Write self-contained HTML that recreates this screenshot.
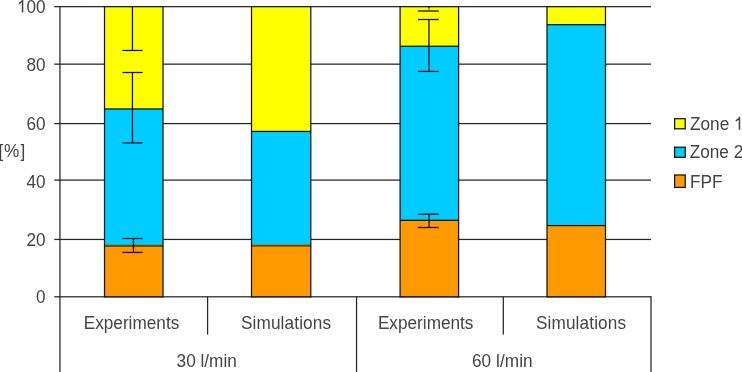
<!DOCTYPE html>
<html><head><meta charset="utf-8"><title>Chart</title>
<style>
html,body{margin:0;padding:0;background:#fff;}
body{width:742px;height:372px;overflow:hidden;}
svg{display:block;}
text{font-family:"Liberation Sans",sans-serif;font-size:17.2px;fill:#444444;}
</style></head><body>
<svg width="742" height="372" viewBox="0 0 742 372">
<rect x="0" y="0" width="742" height="372" fill="#ffffff"/>
<rect x="54.25" y="6.03" width="596.75" height="1.25" fill="#262626"/>
<rect x="54.25" y="63.53" width="596.75" height="1.25" fill="#262626"/>
<rect x="54.25" y="122.97" width="596.75" height="1.25" fill="#262626"/>
<rect x="54.25" y="179.47" width="596.75" height="1.25" fill="#262626"/>
<rect x="54.25" y="238.82" width="596.75" height="1.25" fill="#262626"/>
<rect x="54.25" y="296.18" width="597.35" height="1.25" fill="#262626"/>
<rect x="59.34" y="6.15" width="1.25" height="365.85" fill="#262626"/>
<rect x="650.38" y="296.80" width="1.25" height="75.20" fill="#262626"/>
<rect x="206.97" y="296.80" width="1.25" height="37.80" fill="#262626"/>
<rect x="355.93" y="296.80" width="1.25" height="75.20" fill="#262626"/>
<rect x="502.68" y="296.80" width="1.25" height="37.80" fill="#262626"/>
<rect x="104.50" y="6.65" width="58.50" height="102.30" fill="#ffff00"/>
<rect x="104.50" y="108.95" width="58.50" height="136.00" fill="#00ccff"/>
<rect x="104.50" y="244.95" width="58.50" height="51.85" fill="#ff9900"/>
<rect x="103.88" y="6.03" width="1.25" height="291.40" fill="#141414"/>
<rect x="162.38" y="6.03" width="1.25" height="291.40" fill="#141414"/>
<rect x="104.50" y="6.03" width="58.50" height="1.25" fill="#141414"/>
<rect x="104.50" y="296.18" width="58.50" height="1.25" fill="#141414"/>
<rect x="104.50" y="108.33" width="58.50" height="1.25" fill="#141414"/>
<rect x="104.50" y="244.75" width="58.50" height="2.20" fill="rgba(10,5,0,0.55)"/>
<rect x="251.50" y="6.65" width="59.30" height="124.78" fill="#ffff00"/>
<rect x="251.50" y="131.43" width="59.30" height="113.31" fill="#00ccff"/>
<rect x="251.50" y="244.74" width="59.30" height="52.06" fill="#ff9900"/>
<rect x="250.88" y="6.03" width="1.25" height="291.40" fill="#141414"/>
<rect x="310.18" y="6.03" width="1.25" height="291.40" fill="#141414"/>
<rect x="251.50" y="6.03" width="59.30" height="1.25" fill="#141414"/>
<rect x="251.50" y="296.18" width="59.30" height="1.25" fill="#141414"/>
<rect x="251.50" y="130.81" width="59.30" height="1.25" fill="#141414"/>
<rect x="251.50" y="244.54" width="59.30" height="2.20" fill="rgba(10,5,0,0.55)"/>
<rect x="400.10" y="6.65" width="58.50" height="39.59" fill="#ffff00"/>
<rect x="400.10" y="46.24" width="58.50" height="174.06" fill="#00ccff"/>
<rect x="400.10" y="220.30" width="58.50" height="76.50" fill="#ff9900"/>
<rect x="399.48" y="6.03" width="1.25" height="291.40" fill="#141414"/>
<rect x="457.98" y="6.03" width="1.25" height="291.40" fill="#141414"/>
<rect x="400.10" y="6.03" width="58.50" height="1.25" fill="#141414"/>
<rect x="400.10" y="296.18" width="58.50" height="1.25" fill="#141414"/>
<rect x="400.10" y="45.62" width="58.50" height="1.25" fill="#141414"/>
<rect x="400.10" y="219.68" width="58.50" height="1.25" fill="#141414"/>
<rect x="547.00" y="6.65" width="58.50" height="18.05" fill="#ffff00"/>
<rect x="547.00" y="24.70" width="58.50" height="200.90" fill="#00ccff"/>
<rect x="547.00" y="225.60" width="58.50" height="71.20" fill="#ff9900"/>
<rect x="546.38" y="6.03" width="1.25" height="291.40" fill="#141414"/>
<rect x="604.88" y="6.03" width="1.25" height="291.40" fill="#141414"/>
<rect x="547.00" y="6.03" width="58.50" height="1.25" fill="#141414"/>
<rect x="547.00" y="296.18" width="58.50" height="1.25" fill="#141414"/>
<rect x="547.00" y="24.07" width="58.50" height="1.25" fill="#141414"/>
<rect x="547.00" y="224.97" width="58.50" height="1.25" fill="#141414"/>
<rect x="131.82" y="6.65" width="1.25" height="43.82" fill="#0c0c0c"/>
<rect x="122.40" y="49.84" width="20.20" height="1.25" fill="#0c0c0c"/>
<rect x="131.82" y="72.50" width="1.25" height="70.40" fill="#0c0c0c"/>
<rect x="122.40" y="71.88" width="20.20" height="1.25" fill="#0c0c0c"/>
<rect x="122.40" y="142.28" width="20.20" height="1.25" fill="#0c0c0c"/>
<rect x="132.82" y="238.50" width="1.25" height="13.94" fill="#0c0c0c"/>
<rect x="122.40" y="237.88" width="20.10" height="1.25" fill="#0c0c0c"/>
<rect x="122.40" y="251.81" width="20.10" height="1.25" fill="#0c0c0c"/>
<rect x="428.32" y="6.65" width="1.25" height="1.75" fill="#0c0c0c"/>
<g opacity="0.35">
<rect x="428.32" y="8.40" width="1.25" height="2.60" fill="#0c0c0c"/>
</g>
<rect x="418.06" y="10.38" width="20.70" height="1.25" fill="#0c0c0c"/>
<rect x="428.32" y="19.50" width="1.25" height="51.93" fill="#0c0c0c"/>
<rect x="418.06" y="18.88" width="20.70" height="1.25" fill="#0c0c0c"/>
<rect x="418.06" y="70.81" width="20.70" height="1.25" fill="#0c0c0c"/>
<rect x="428.48" y="214.20" width="1.25" height="13.30" fill="#0c0c0c"/>
<rect x="418.06" y="213.57" width="20.74" height="1.25" fill="#0c0c0c"/>
<rect x="418.06" y="226.88" width="20.74" height="1.25" fill="#0c0c0c"/>
<rect x="674.60" y="118.70" width="10.60" height="10.10" fill="#ffff00"/>
<rect x="673.98" y="118.08" width="1.25" height="11.35" fill="#141414"/>
<rect x="684.58" y="118.08" width="1.25" height="11.35" fill="#141414"/>
<rect x="674.60" y="118.08" width="10.60" height="1.25" fill="#141414"/>
<rect x="674.60" y="128.18" width="10.60" height="1.25" fill="#141414"/>
<rect x="674.60" y="147.20" width="10.60" height="10.10" fill="#00ccff"/>
<rect x="673.98" y="146.57" width="1.25" height="11.35" fill="#141414"/>
<rect x="684.58" y="146.57" width="1.25" height="11.35" fill="#141414"/>
<rect x="674.60" y="146.57" width="10.60" height="1.25" fill="#141414"/>
<rect x="674.60" y="156.68" width="10.60" height="1.25" fill="#141414"/>
<rect x="674.60" y="175.00" width="10.60" height="12.40" fill="#ff9900"/>
<rect x="673.98" y="174.38" width="1.25" height="13.65" fill="#141414"/>
<rect x="684.58" y="174.38" width="1.25" height="13.65" fill="#141414"/>
<rect x="674.60" y="174.38" width="10.60" height="1.25" fill="#141414"/>
<rect x="674.60" y="186.78" width="10.60" height="1.25" fill="#141414"/>
<g style="filter:grayscale(1)">
<text transform="translate(690,129.85) scale(1,1.06)" text-anchor="start">Zone</text>
<path d="M763 0H583V1147Q518 1085 412.5 1023Q307 961 223 930V1104Q374 1175 487 1276Q600 1377 647 1472H763Z" transform="translate(733.8,129.85) scale(0.008398,-0.008902)" fill="#444444"/>
<text transform="translate(689.7,157.9) scale(1,1.06)" text-anchor="start">Zone 2</text>
<text transform="translate(690,188.1) scale(1,1.06)" text-anchor="start">FPF</text>
<path d="M763 0H583V1147Q518 1085 412.5 1023Q307 961 223 930V1104Q374 1175 487 1276Q600 1377 647 1472H763Z" transform="translate(16.9,12.5) scale(0.008398,-0.008902)" fill="#444444"/>
<text transform="translate(45.6,12.5) scale(1,1.06)" text-anchor="end">00</text>
<text transform="translate(45.6,70.55) scale(1,1.06)" text-anchor="end">80</text>
<text transform="translate(45.6,129.5) scale(1,1.06)" text-anchor="end">60</text>
<text transform="translate(45.6,187.5) scale(1,1.06)" text-anchor="end">40</text>
<text transform="translate(45.6,246.4) scale(1,1.06)" text-anchor="end">20</text>
<text transform="translate(45.6,302.5) scale(1,1.06)" text-anchor="end">0</text>
<text transform="translate(-1.5,157) scale(1,1.06)" text-anchor="start">[<tspan dx="0.6">%</tspan><tspan dx="1.4">]</tspan></text>
<text transform="translate(83.7,329.4) scale(1,1.06)" text-anchor="start">Experiments</text>
<text transform="translate(240.9,329.4) scale(1,1.06)" text-anchor="start" textLength="90.2" lengthAdjust="spacing">Simulations</text>
<text transform="translate(377.9,329.4) scale(1,1.06)" text-anchor="start">Experiments</text>
<text transform="translate(535.9,329.4) scale(1,1.06)" text-anchor="start" textLength="90.2" lengthAdjust="spacing">Simulations</text>
<text transform="translate(176.6,366.8) scale(1,1.06)" text-anchor="start">30 l/min</text>
<text transform="translate(471.9,366.8) scale(1,1.06)" text-anchor="start" textLength="60.8" lengthAdjust="spacing">60 l/min</text>
</g>
</svg>
</body></html>
